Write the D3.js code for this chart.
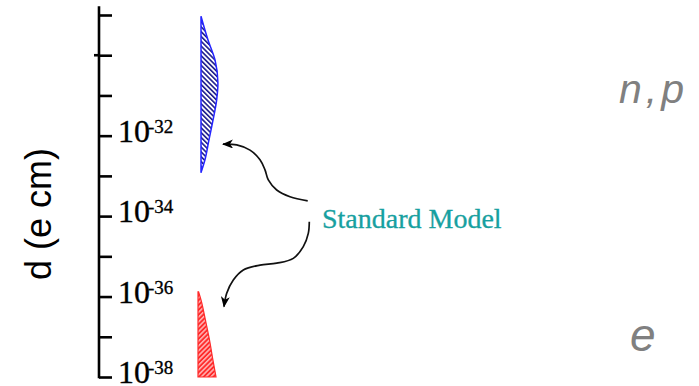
<!DOCTYPE html>
<html>
<head>
<meta charset="utf-8">
<script src="https://cdn.jsdelivr.net/npm/d3@7"></script>
<style>
  body { margin: 0; background: #fff; }
  svg { display: block; }
</style>
</head>
<body>
<svg id="chart"></svg>
<script>
// decades shown on the axis (exponents of 10)
const tickExponents = [-38, -37, -36, -35, -34, -33, -32, -31, -30, -29];
const labelExponents = [-38, -36, -34, -32];
const crossTicks = [-30];

// standard model prediction for the nucleon edm (log10 d, relative spread)
const nucleonLogD = [-29.03, -29.62, -30.12, -30.69, -31.11, -31.61, -32.11, -32.60, -32.92];
const nucleonSpread = [0, 0.39, 0.78, 0.94, 0.87, 0.67, 0.44, 0.22, 0];

// standard model prediction for the electron edm
const electronLogD = [-35.88, -36.09, -36.58, -37.08, -37.58, -38];
const electronSpread = [0.03, 0.17, 0.41, 0.64, 0.83, 1.0];

// annotation arrows, [x px, log10 d]
const arrowUp = [[307.7, -33.62], [290, -33.52], [276.7, -33.35], [268.3, -33.10], [265, -32.85],
  [260, -32.60], [250, -32.36], [236.7, -32.23], [223, -32.21]];
const arrowDown = [[309.3, -34.14], [308.3, -34.43], [303.3, -34.76], [293.3, -35.05], [276.7, -35.17],
  [260, -35.22], [243.3, -35.34], [233.3, -35.59], [226.7, -35.92], [224, -36.25]];

const width = 699;
const height = 386;

const svg = d3.select('#chart')
  .attr('width', width)
  .attr('height', height);

const y = d3.scaleLog()
  .domain([1e-38, 1e-29])
  .range([377, 15]);

const yExp = e => y(Math.pow(10, e));

const spread = d3.scaleLinear().domain([0, 1]).range([0, 18]);

// hatch patterns
const defs = svg.append('defs');

const bluePattern = defs.append('pattern')
  .attr('id', 'hatch-blue')
  .attr('patternUnits', 'userSpaceOnUse')
  .attr('width', 3.4)
  .attr('height', 10)
  .attr('patternTransform', 'rotate(-45)');
bluePattern.append('rect').attr('width', 3.4).attr('height', 10).attr('fill', '#fff');
bluePattern.append('line')
  .attr('x1', 0.8).attr('x2', 0.8).attr('y1', 0).attr('y2', 10)
  .attr('stroke', '#1c1c8c').attr('stroke-width', 1.6);

const redPattern = defs.append('pattern')
  .attr('id', 'hatch-red')
  .attr('patternUnits', 'userSpaceOnUse')
  .attr('width', 3.4)
  .attr('height', 10)
  .attr('patternTransform', 'rotate(45)');
redPattern.append('rect').attr('width', 3.4).attr('height', 10).attr('fill', '#ff2a2a');
redPattern.append('line')
  .attr('x1', 0.8).attr('x2', 0.8).attr('y1', 0).attr('y2', 10)
  .attr('stroke', '#fff').attr('stroke-width', 1);

defs.append('marker')
  .attr('id', 'head')
  .attr('markerUnits', 'userSpaceOnUse')
  .attr('viewBox', '0 0 11 9')
  .attr('markerWidth', 11)
  .attr('markerHeight', 9)
  .attr('refX', 10)
  .attr('refY', 4.5)
  .attr('orient', 'auto')
  .append('path')
  .attr('d', 'M0,0 L11,4.5 L0,9 L3,4.5 Z')
  .attr('fill', '#000');

// axis
const axisG = svg.append('g')
  .attr('transform', 'translate(99,0)')
  .call(d3.axisRight(y)
    .tickValues(tickExponents.map(e => Math.pow(10, e)))
    .tickSize(13)
    .tickSizeOuter(0)
    .tickFormat(''));

axisG.select('.domain').remove();
axisG.selectAll('.tick line')
  .attr('stroke', '#000')
  .attr('stroke-width', 2.6);

axisG.append('line')
  .attr('x1', 0).attr('x2', 0)
  .attr('y1', yExp(-28.78)).attr('y2', yExp(-38) + 1.3)
  .attr('stroke', '#000')
  .attr('stroke-width', 2.6);

axisG.selectAll('.cross')
  .data(crossTicks)
  .join('line')
  .attr('class', 'cross')
  .attr('x1', -5).attr('x2', 0)
  .attr('y1', d => yExp(d)).attr('y2', d => yExp(d))
  .attr('stroke', '#000')
  .attr('stroke-width', 2.6);

const labels = svg.selectAll('.ylabel')
  .data(labelExponents)
  .join('text')
  .attr('class', 'ylabel')
  .attr('x', 118)
  .attr('y', d => yExp(d) + 6)
  .attr('font-family', '"Liberation Serif", "Times New Roman", serif')
  .attr('fill', '#000')
  .attr('stroke', '#000')
  .attr('stroke-width', 0.35);

labels.append('tspan')
  .attr('font-size', 32)
  .text('10');
labels.append('tspan')
  .attr('font-size', 19)
  .attr('dx', -2)
  .attr('dy', -9)
  .text(d => String(d).replace('\u2212', '-'));

svg.append('text')
  .attr('transform', `translate(51,${ yExp(-33.95) }) rotate(-90)`)
  .attr('text-anchor', 'middle')
  .attr('font-family', '"Liberation Sans", Arial, sans-serif')
  .attr('font-size', 36)
  .attr('fill', '#000')
  .text('d (e cm)');

// prediction bands
const band = (x0) => d3.area()
  .y(d => yExp(d[0]))
  .x0(x0)
  .x1(d => x0 + spread(d[1]))
  .curve(d3.curveMonotoneY);

svg.append('path')
  .datum(d3.zip(nucleonLogD, nucleonSpread))
  .attr('d', band(201))
  .attr('fill', 'url(#hatch-blue)')
  .attr('stroke', '#2424ff')
  .attr('stroke-width', 1.5);

svg.append('path')
  .datum(d3.zip(electronLogD, electronSpread))
  .attr('d', band(198))
  .attr('fill', 'url(#hatch-red)')
  .attr('stroke', '#ff2a2a')
  .attr('stroke-width', 1.2);

// annotation
const arrowLine = d3.line()
  .x(d => d[0])
  .y(d => yExp(d[1]))
  .curve(d3.curveCatmullRom);

svg.selectAll('.arrow')
  .data([arrowUp, arrowDown])
  .join('path')
  .attr('class', 'arrow')
  .attr('d', arrowLine)
  .attr('fill', 'none')
  .attr('stroke', '#111')
  .attr('stroke-width', 1.7)
  .attr('marker-end', 'url(#head)');

svg.append('text')
  .attr('x', 322)
  .attr('y', 228)
  .attr('font-family', '"Liberation Serif", "Times New Roman", serif')
  .attr('font-size', 28)
  .attr('fill', '#17a0a0')
  .attr('stroke', '#17a0a0')
  .attr('stroke-width', 0.3)
  .text('Standard Model');

svg.append('text')
  .attr('x', 619)
  .attr('y', 103)
  .attr('font-family', '"Liberation Sans", Arial, sans-serif')
  .attr('font-style', 'italic')
  .attr('font-size', 41)
  .attr('letter-spacing', 4)
  .attr('fill', '#808080')
  .text('n,p');

svg.append('text')
  .attr('x', 630)
  .attr('y', 351)
  .attr('font-family', '"Liberation Sans", Arial, sans-serif')
  .attr('font-style', 'italic')
  .attr('font-size', 46)
  .attr('fill', '#808080')
  .text('e');
</script>
</body>
</html>
